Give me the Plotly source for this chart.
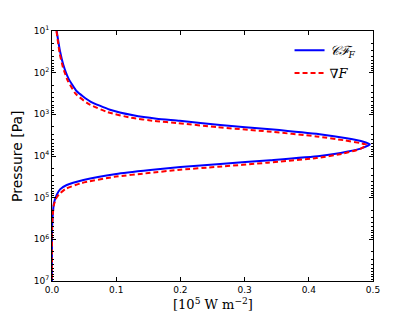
import plotly.graph_objects as go

# Blue solid curve: contribution function (10^5 W m^-2) vs log10 pressure
cf_flux = [0.0073, 0.0125, 0.0176, 0.0254, 0.0385, 0.0592, 0.0903, 0.1266, 0.163, 0.199, 0.262, 0.34, 0.417, 0.459, 0.485, 0.495,
           0.485, 0.459, 0.417, 0.34, 0.262, 0.200, 0.153, 0.100, 0.049, 0.023, 0.0125, 0.0073, 0.003, 0.001, 0.0, 0.0]
cf_logp = [1.0, 1.487, 1.81, 2.13, 2.447, 2.687, 2.889, 3.023, 3.105, 3.153, 3.256, 3.36, 3.48, 3.575, 3.657, 3.72,
           3.80, 3.90, 4.00, 4.10, 4.19, 4.265, 4.336, 4.43, 4.576, 4.696, 4.80, 4.936, 5.135, 5.456, 5.8, 7.0]

# Red dashed curve: flux divergence
grad_flux = [0.0070, 0.0120, 0.0170, 0.0245, 0.0370, 0.0570, 0.0870, 0.1230, 0.160, 0.196, 0.258, 0.336, 0.412, 0.454, 0.480, 0.490,
             0.480, 0.454, 0.412, 0.336, 0.258, 0.196, 0.150, 0.097, 0.046, 0.021, 0.011, 0.006, 0.0025, 0.0008, 0.0, 0.0]
grad_logp = [1.0, 1.54, 1.87, 2.19, 2.51, 2.75, 2.95, 3.08, 3.16, 3.21, 3.31, 3.41, 3.53, 3.62, 3.69, 3.73,
             3.83, 3.94, 4.05, 4.16, 4.26, 4.335, 4.41, 4.50, 4.65, 4.79, 4.92, 5.03, 5.20, 5.50, 5.8, 7.0]

x_ticks = [0.0, 0.1, 0.2, 0.3, 0.4, 0.5]
x_labels = ["0.0", "0.1", "0.2", "0.3", "0.4", "0.5"]
y_tickvals = [1e1, 1e2, 1e3, 1e4, 1e5, 1e6, 1e7]
y_ticktext = ["10<sup>1</sup>", "10<sup>2</sup>", "10<sup>3</sup>", "10<sup>4</sup>",
              "10<sup>5</sup>", "10<sup>6</sup>", "10<sup>7</sup>"]

fig = go.Figure()
fig.add_trace(go.Scatter(x=cf_flux, y=[10 ** v for v in cf_logp], mode="lines",
                         line=dict(color="#0000ff", width=2, shape="spline", smoothing=0.5),
                         name="<i>𝒞ℱ</i><sub><i>F</i></sub>", legendgroup="a"))
fig.add_trace(go.Scatter(x=grad_flux, y=[10 ** v for v in grad_logp], mode="lines",
                         line=dict(color="#ff0000", width=2, dash="5px,3px", shape="spline", smoothing=0.5),
                         name="∇<i>F</i>", legendgroup="b"))

axis_common = dict(showline=True, linecolor="black", linewidth=1, mirror="allticks",
                   ticks="inside", tickcolor="black", ticklen=4, showgrid=False, zeroline=False,
                   automargin=False,
                   tickfont=dict(family="DejaVu Sans", size=9, color="black"))

# page body has an 8px default margin, so the figure is sized/offset to compensate
fig.update_layout(
    width=407, height=304,
    paper_bgcolor="white", plot_bgcolor="white",
    margin=dict(l=44, r=42, t=23, b=31, autoexpand=False),
    showlegend=True,
    legend=dict(x=0.74, y=0.983, xanchor="left", yanchor="top", bgcolor="rgba(0,0,0,0)",
                font=dict(family="DejaVu Serif", size=13, color="black"), tracegroupgap=3),
    xaxis=dict(range=[0, 0.5], tickvals=x_ticks, ticktext=x_labels, **axis_common),
    yaxis=dict(type="log", range=[7, 1], tickvals=y_tickvals, ticktext=y_ticktext,
               minor=dict(ticks="inside", ticklen=2, tickcolor="black", dtick="D1"),
               **axis_common),
    annotations=[
        dict(text="[10<sup>5</sup> W m<sup>−2</sup>]", xref="paper", yref="paper",
             x=0.5, y=-0.05, xanchor="center", yanchor="top", showarrow=False,
             font=dict(family="DejaVu Serif", size=13, color="black")),
        dict(text="Pressure [Pa]", xref="paper", yref="paper", textangle=-90,
             x=-0.078, y=0.5, xanchor="right", yanchor="middle", showarrow=False,
             font=dict(family="DejaVu Sans", size=14, color="black")),
    ],
)

fig.write_html("out.html")
